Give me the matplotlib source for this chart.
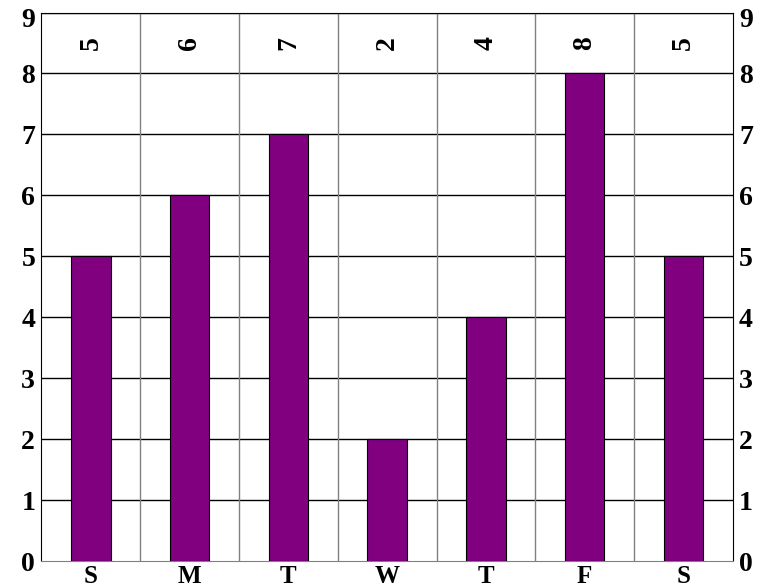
import matplotlib
matplotlib.use("Agg")
import matplotlib.pyplot as plt
import matplotlib.transforms as mtransforms
import numpy as np

# data
days = ["S", "M", "T", "W", "T", "F", "S"]
values = [5, 6, 7, 2, 4, 8, 5]
y_ticks = list(range(0, 10))

plt.rcParams["font.family"] = "Liberation Serif"
plt.rcParams["font.weight"] = "bold"

fig = plt.figure(figsize=(7.61, 5.88), dpi=100)
ax = fig.add_axes([0.0545, 0.0459, 0.9085, 0.9328])

x = np.arange(len(days))
ax.bar(x, values, width=0.4, color="#800080", edgecolor="black", linewidth=0.8, zorder=3)

# value labels at the top, rotated
for xi, v in zip(x, values):
    ax.text(xi, 8.5, str(v), rotation=90, ha="center", va="center",
            fontsize=20, fontweight="bold")

ax.set_xlim(-0.5, len(days) - 0.5)
ax.set_ylim(0, 9)
ax.set_yticks(y_ticks)
ax.set_yticklabels([str(t) for t in y_ticks], fontsize=20, fontweight="bold")
ax.set_xticks(x)
ax.set_xticklabels(days, fontsize=18, fontweight="bold")
ax.tick_params(axis="both", length=0)
ax.tick_params(axis="y", labelright=True, right=False, pad=4.5)
ax.tick_params(axis="x", pad=3)

# top "9" labels sit a bit lower so they are not cut at the edge
shift = mtransforms.ScaledTranslation(0, -4.5 / 100, fig.dpi_scale_trans)
top_tick = ax.yaxis.get_major_ticks()[-1]
for lab in (top_tick.label1, top_tick.label2):
    lab.set_transform(lab.get_transform() + shift)

# grid: black horizontals, gray verticals between categories
for yv in y_ticks[1:]:
    ax.axhline(yv, color="black", linewidth=1, zorder=1)
for xb in np.arange(0.5, len(days) - 0.5, 1):
    ax.axvline(xb, color="gray", linewidth=1, zorder=1)

for side in ["top", "left", "right"]:
    ax.spines[side].set_color("black")
ax.spines["bottom"].set_color("gray")

fig.savefig("out.png", dpi=100)
